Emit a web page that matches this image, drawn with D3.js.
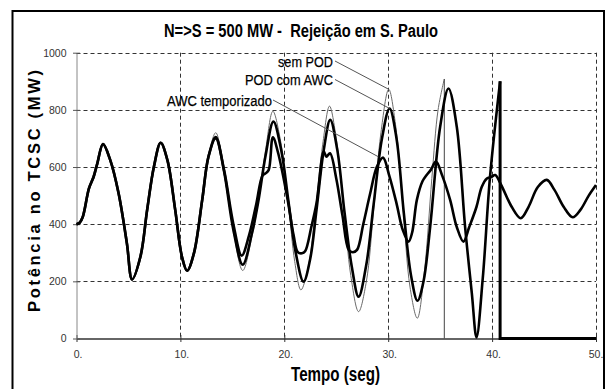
<!DOCTYPE html>
<html>
<head>
<meta charset="utf-8">
<script src="https://cdn.jsdelivr.net/npm/d3@7"></script>
<style>
  html, body { margin: 0; padding: 0; background: #fff; }
  svg { display: block; }
</style>
</head>
<body>
<svg id="chart" width="606" height="389"></svg>
<script>
// ---- data: TCSC power (MW) versus time (s) ----
const xTicks = [0, 10, 20, 30, 40, 50];
const yTicks = [0, 200, 400, 600, 800, 1000];

// first seconds, identical for the three cases
const sharedStart = [
  [0, 400], [0.3, 405], [0.6, 425], [1.2, 525], [1.65, 566], [2.0, 612], [2.55, 680],
  [3.25, 624], [4.05, 508], [4.85, 333], [5.35, 207], [6.15, 286], [6.8, 450],
  [7.45, 601], [8.1, 685], [8.75, 624], [9.5, 450], [10.15, 286], [10.65, 237],
  [11.3, 298], [12.1, 485], [12.7, 636]
];

// "sem POD" – undamped, growing oscillation
const semPodRest = [
  [13.4, 720], [14.2, 585], [15.1, 375], [16.0, 238], [16.9, 360], [17.5, 480],
  [18.2, 660], [18.9, 795], [19.6, 700], [20.4, 470], [21.0, 270], [21.6, 170],
  [22.3, 250], [23.0, 450], [23.7, 680], [24.35, 813], [25.0, 700], [25.7, 470],
  [26.4, 220], [27.15, 94], [27.9, 200], [28.6, 450], [29.3, 720], [30.05, 872],
  [30.7, 750], [31.4, 470], [32.1, 180], [32.8, 71], [33.5, 240], [34.2, 560],
  [34.8, 800], [35.4, 908]
];
const semPodTrip = [[35.4, 908], [35.4, 0]];

// "POD com AWC"
const podAwcRest = [
  [13.4, 705], [14.2, 585], [15.1, 380], [16.0, 258], [16.9, 370], [17.5, 480],
  [18.2, 640], [18.95, 759], [19.7, 660], [20.4, 480], [21.1, 300], [21.85, 199],
  [22.5, 280], [23.1, 450], [23.8, 660], [24.42, 765], [25.1, 660], [25.8, 440],
  [26.5, 250], [27.15, 146], [27.9, 260], [28.6, 470], [29.4, 700], [30.13, 805],
  [30.8, 700], [31.5, 440], [32.2, 220], [32.82, 132], [33.4, 200], [34.04, 391],
  [35.0, 741], [35.8, 875], [36.6, 741], [37.4, 391], [38.05, 158], [38.5, 4],
  [39.1, 210], [39.8, 566], [40.77, 900]
];
const podAwcTrip = [[40.77, 900], [40.77, 0], [50, 0]];

// "AWC temporizado"
const awcTempRest = [
  [13.4, 700], [14.2, 590], [15.1, 400], [15.9, 290], [16.6, 360], [17.3, 470],
  [17.9, 570], [18.2, 578], [18.5, 590], [18.9, 704], [19.4, 650], [20.3, 490],
  [20.9, 360], [21.3, 302], [21.7, 298], [22.0, 305], [22.6, 390], [23.1, 473],
  [23.8, 654], [24.05, 636], [24.4, 648], [25.0, 560], [25.6, 430], [26.2, 310],
  [26.6, 302], [27.0, 310], [27.6, 400], [28.27, 508], [28.9, 600], [29.5, 633],
  [30.1, 570], [30.8, 473], [31.4, 380], [31.96, 339], [32.3, 370], [32.76, 485],
  [33.3, 550], [33.7, 572], [34.1, 590], [34.6, 619], [35.2, 570], [35.96, 485],
  [36.6, 390], [37.24, 339], [37.8, 390], [38.5, 461], [39.0, 530], [39.5, 560],
  [39.9, 565], [40.3, 572], [40.7, 550], [41.1, 520], [41.9, 460], [42.76, 421],
  [43.5, 460], [44.4, 530], [45.26, 555], [46.0, 520], [46.9, 460], [47.76, 424],
  [48.5, 450], [49.3, 500], [50.0, 537]
];

const semPod = sharedStart.concat(semPodRest);
const podAwc = sharedStart.concat(podAwcRest);
const awcTemp = sharedStart.concat(awcTempRest);

// annotation texts and the curve points they point at
const labelNames = ["sem POD", "POD com AWC", "AWC temporizado"];
const labelTargets = [[30.05, 872], [30.13, 805], [29.05, 636]];

// ---- layout ----
const svg = d3.select("#chart");
const narrow = "'Liberation Sans Narrow', 'Arial Narrow', 'Liberation Sans', Arial, sans-serif";
const wide = "'Liberation Sans', Arial, sans-serif";

const x = d3.scaleLinear().domain([0, 50]).range([76.5, 596]);
const y = d3.scaleLinear().domain([0, 1000]).range([338.5, 52.7]);

// outer frame
svg.append("rect")
  .attr("x", 12.5).attr("y", 11).attr("width", 591.5).attr("height", 392)
  .attr("fill", "#fff").attr("stroke", "#000").attr("stroke-width", 2);

// dashed grid
const grid = svg.append("g").attr("stroke", "#333").attr("stroke-width", 1)
  .attr("stroke-dasharray", "4,3").attr("fill", "none");
grid.selectAll("line.h").data(yTicks.filter(d => d > 0)).join("line")
  .attr("x1", x(0)).attr("x2", x(50))
  .attr("y1", d => Math.round(y(d)) + 0.5).attr("y2", d => Math.round(y(d)) + 0.5);
grid.selectAll("line.v").data(xTicks.filter(d => d > 0)).join("line")
  .attr("y1", y(1000)).attr("y2", y(0))
  .attr("x1", d => Math.round(x(d)) + 0.5).attr("x2", d => Math.round(x(d)) + 0.5);

// axes
const xAxis = svg.append("g").attr("transform", `translate(0,${y(0)})`)
  .call(d3.axisBottom(x).tickValues(xTicks).tickFormat(d => d + ".")
    .tickSizeInner(0).tickSizeOuter(0).tickPadding(12));
xAxis.select(".domain").attr("stroke", "#333").attr("stroke-width", 1.5);
xAxis.selectAll(".tick line").attr("y1", -3.5).attr("y2", 3.5).attr("stroke", "#333");
xAxis.selectAll(".tick text").attr("dx", d => d === 50 ? -0.5 : 1).attr("fill", "#333")
  .style("font-family", narrow).style("font-size", "10.5px");

const yAxis = svg.append("g").attr("transform", `translate(${x(0)},0)`)
  .call(d3.axisLeft(y).tickValues(yTicks).tickFormat(d => String(d))
    .tickSizeInner(0).tickSizeOuter(0).tickPadding(10));
yAxis.select(".domain").attr("stroke", "#888").attr("stroke-width", 1);
yAxis.selectAll(".tick line").attr("x1", -3.5).attr("x2", 3.5).attr("stroke", "#555");
yAxis.selectAll(".tick text").attr("fill", "#333")
  .style("font-family", narrow).style("font-size", "10.5px");

// series
const smooth = d3.line().x(d => x(d[0])).y(d => y(d[1])).curve(d3.curveCatmullRom.alpha(0.5));
const straight = d3.line().x(d => x(d[0])).y(d => y(d[1]));

const plot = svg.append("g").attr("fill", "none").attr("stroke-linejoin", "round");
plot.append("path").attr("d", smooth(semPod)).attr("stroke", "#6a6a6a").attr("stroke-width", 1);
plot.append("path").attr("d", straight(semPodTrip)).attr("stroke", "#444").attr("stroke-width", 1);
plot.append("path").attr("d", smooth(awcTemp)).attr("stroke", "#000").attr("stroke-width", 2.6);
plot.append("path").attr("d", smooth(podAwc)).attr("stroke", "#000").attr("stroke-width", 2.6);
plot.append("path").attr("d", straight(podAwcTrip)).attr("stroke", "#000").attr("stroke-width", 3)
  .attr("stroke-linejoin", "miter");

// annotations with leader lines
const labelAnchors = [[333, 66.7, 55], [333, 85, 88], [272, 106, 105]];
const leaderStarts = [[335, 61], [335, 79.5], [273, 100]];
labelNames.forEach((name, i) => {
  const [tx, ty, tl] = labelAnchors[i];
  svg.append("text").attr("x", tx).attr("y", ty).attr("text-anchor", "end")
    .attr("textLength", tl).attr("lengthAdjust", "spacingAndGlyphs")
    .style("font-family", narrow).style("font-size", "15.5px")
    .attr("fill", "#000").attr("stroke", "#000").attr("stroke-width", 0.25)
    .text(name);
  const [sx, sy] = leaderStarts[i];
  const t = labelTargets[i];
  svg.append("line").attr("x1", sx).attr("y1", sy).attr("x2", x(t[0])).attr("y2", y(t[1]))
    .attr("stroke", "#555").attr("stroke-width", 1);
});

// title and axis titles
svg.append("text").attr("x", 301).attr("y", 36.7).attr("text-anchor", "middle")
  .attr("textLength", 274).attr("lengthAdjust", "spacingAndGlyphs")
  .style("white-space", "pre")
  .style("font-family", narrow).style("font-weight", "bold").style("font-size", "18px")
  .text("N=>S = 500 MW -  Rejeição em S. Paulo");

svg.append("text").attr("x", 335.5).attr("y", 380.5).attr("text-anchor", "middle")
  .attr("textLength", 89).attr("lengthAdjust", "spacingAndGlyphs")
  .style("font-family", narrow).style("font-weight", "bold").style("font-size", "20px")
  .text("Tempo (seg)");

svg.append("text").attr("transform", "translate(39.5,191) rotate(-90)")
  .attr("text-anchor", "middle")
  .attr("textLength", 242).attr("lengthAdjust", "spacing")
  .style("font-family", wide).style("font-weight", "bold").style("font-size", "16.5px")
  .text("Potência no TCSC (MW)");
</script>
</body>
</html>
